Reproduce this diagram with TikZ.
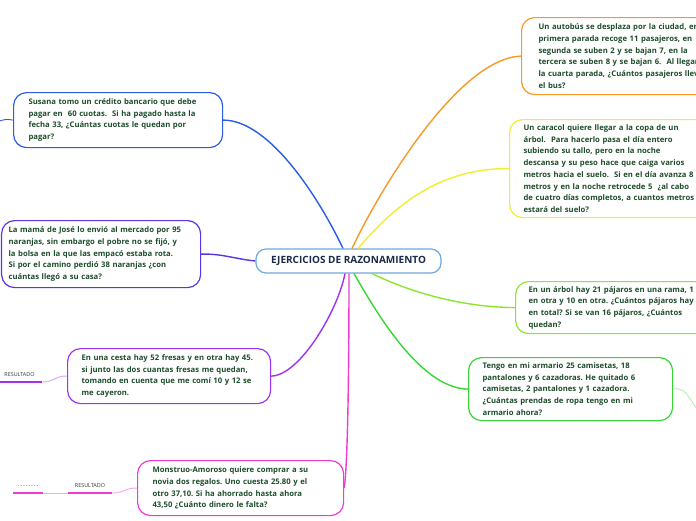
\documentclass[tikz,border=0pt]{standalone}
\usepackage{fontspec}
\setmainfont{Open Sans}
\usetikzlibrary{positioning}
\definecolor{cblue}{HTML}{2B5CE6}
\definecolor{cindigo}{HTML}{5A35E8}
\definecolor{cviolet}{HTML}{A033F0}
\definecolor{cmag}{HTML}{EE3AD6}
\definecolor{cgreen}{HTML}{36D636}
\definecolor{clime}{HTML}{8CE62E}
\definecolor{cyellow}{HTML}{EEEE33}
\definecolor{corange}{HTML}{F59A28}
\definecolor{rootline}{HTML}{6FA8DC}
\definecolor{rootink}{HTML}{1B2A4A}
\definecolor{qink}{HTML}{1E4D2B}
\definecolor{leafink}{HTML}{333333}
\frenchspacing
\newcommand\qfont{\fontsize{7.7}{11.7}\selectfont\bfseries}
\newcommand\hy{-\kern1pt}
\tikzset{root/.style={draw=rootline, fill=white, line width=1.2pt, rounded corners=10pt, minimum width=185pt, minimum height=24pt, text=rootink, font=\fontsize{10}{11}\selectfont\bfseries}, qbox/.style={draw=#1, fill=white, line width=1.2pt, rounded corners=13pt, anchor=north west, inner ysep=0pt, align=left, text=qink, font=\qfont}, link/.style={draw=#1, line width=1.4pt}, twig/.style={draw=#1, line width=.9pt}, leaf/.style={anchor=south, inner xsep=0pt, inner ysep=5pt, text=leafink, font=\fontsize{5.4}{6}\selectfont}, ul/.style={draw=#1, line width=2pt}}
\begin{document}
\begin{tikzpicture}[x=1pt,y=-1pt]
\useasboundingbox (0,0) rectangle (696,520);
\clip (0,0) rectangle (696,520);
\node[root] (root) at (348.5,261) {EJERCICIOS DE RAZONAMIENTO};
\node[qbox=corange, text width=200pt, inner xsep=17pt, minimum height=77pt] (bus) at (521,17) {Un autobús se desplaza por la ciudad, en\\primera parada recoge 11 pasajeros, en\\segunda se suben 2 y se bajan 7, en la\\tercera se suben 8 y se bajan 6.\ \ Al llegar\\la cuarta parada, ¿Cuántos pasajeros lleva\\el bus?};
\node[qbox=cyellow, text width=195pt, inner xsep=14pt, minimum height=98pt] (caracol) at (509,119) {Un caracol quiere llegar a la copa de un\\árbol.\ \ Para hacerlo pasa el día entero\\subiendo su tallo, pero en la noche\\descansa y su peso hace que caiga varios\\metros hacia el suelo.\ \ Si en el día avanza 8\\metros y en la noche retrocede 5\ \ ¿al cabo\\de cuatro días completos, a cuantos metros\\estará del suelo?};
\node[qbox=clime, text width=200pt, inner xsep=13pt, minimum height=52pt] (pajaros) at (515,281) {En un árbol hay 21 pájaros en una rama, 1\\en otra y 10 en otra. ¿Cuántos pájaros hay\\en total? Si se van 16 pájaros, ¿Cuántos\\quedan?};
\node[qbox=cgreen, text width=176pt, inner xsep=14pt, minimum height=63pt] (armario) at (468,357) {Tengo en mi armario 25 camisetas, 18\\pantalones y 6 cazadoras. He quitado 6\\camisetas, 2 pantalones y 1 cazadora.\\¿Cuántas prendas de ropa tengo en mi\\armario ahora?};
\node[qbox=cblue, text width=179pt, inner xsep=15pt, minimum height=55pt] (susana) at (13,92) {Susana tomo un crédito bancario que debe\\pagar en\ \ 60 cuotas.\ \ Si ha pagado hasta la\\fecha 33, ¿Cuántas cuotas le quedan por\\pagar?};
\node[qbox=cindigo, text width=185pt, inner xsep=7pt, minimum height=67pt] (mama) at (1,220) {La mamá de José lo envió al mercado por 95\\naranjas, sin embargo el pobre no se fijó, y\\la bolsa en la que las empacó estaba rota.\\Si por el camino perdió 38 naranjas ¿con\\cuántas llegó a su casa?};
\node[qbox=cviolet, text width=175pt, inner xsep=14pt, minimum height=55pt] (fresas) at (67,348) {En una cesta hay 52 fresas y en otra hay 45.\\si junto las dos cuantas fresas me quedan,\\tomando en cuenta que me comí 10 y 12 se\\me cayeron.};
\node[qbox=cmag, text width=176pt, inner xsep=15pt, minimum height=55pt] (monstruo) at (137,460) {Monstruo-Amoroso quiere comprar a su\\novia dos regalos. Uno cuesta 25.80 y el\\otro 37,10. Si ha ahorrado hasta ahora\\43,50 ¿Cuánto dinero le falta?};
% ramas
\draw[link=cblue] ([xshift=-5.5pt]root.north) .. controls (320,200) and (270,120) .. (susana.east);
\draw[link=corange] ([xshift=3.5pt]root.north) .. controls (382,185) and (460,58) .. (bus.west);
\draw[link=cyellow] ([xshift=9.5pt]root.north) .. controls (395,205) and (440,168) .. (caracol.west);
\draw[link=cindigo] (root.west) .. controls (235,259) and (222,253.5) .. (mama.east);
\draw[link=clime] ([xshift=23.5pt]root.south) .. controls (410,292) and (460,307) .. (pajaros.west);
\draw[link=cgreen] ([xshift=5.5pt]root.south) .. controls (375,310) and (420,388.5) .. (armario.west);
\draw[link=cviolet] ([xshift=-3.5pt]root.south) .. controls (338,310) and (300,375.5) .. (fresas.east);
\draw[link=cmag] ([xshift=.5pt]root.south) .. controls (349,400) and (347,470) .. (monstruo.east);
% resultados
\node[leaf, minimum width=45pt] (resf) at (19.5,382) {RESULTADO};
\draw[ul=cviolet] (resf.south west) -- (resf.south east);
\draw[twig=cviolet!45] (resf.south east) .. controls (55,382) and (55,375.5) .. (fresas.west);
\node[leaf, minimum width=44pt] (resm) at (90,493) {RESULTADO};
\draw[ul=cmag] (resm.south west) -- (resm.south east);
\draw[twig=cmag!45] (resm.south east) .. controls (125,493) and (125,487.5) .. (monstruo.west);
\node[leaf, minimum width=30pt] (guion) at (28,493) {\hy\hy\hy\hy\hy\hy\hy-};
\draw[ul=cmag] (guion.south west) -- (guion.south east);
\draw[twig=cmag!45] (guion.south east) -- (resm.south west);
\coordinate (offl) at (-4,122);
\draw[twig=cblue] (susana.west) .. controls (6,119) .. (offl);
\coordinate (offr) at (702,414);
\draw[twig=cgreen!40] (armario.east) .. controls (688,386) and (690,404) .. (offr);
\end{tikzpicture}
\end{document}
